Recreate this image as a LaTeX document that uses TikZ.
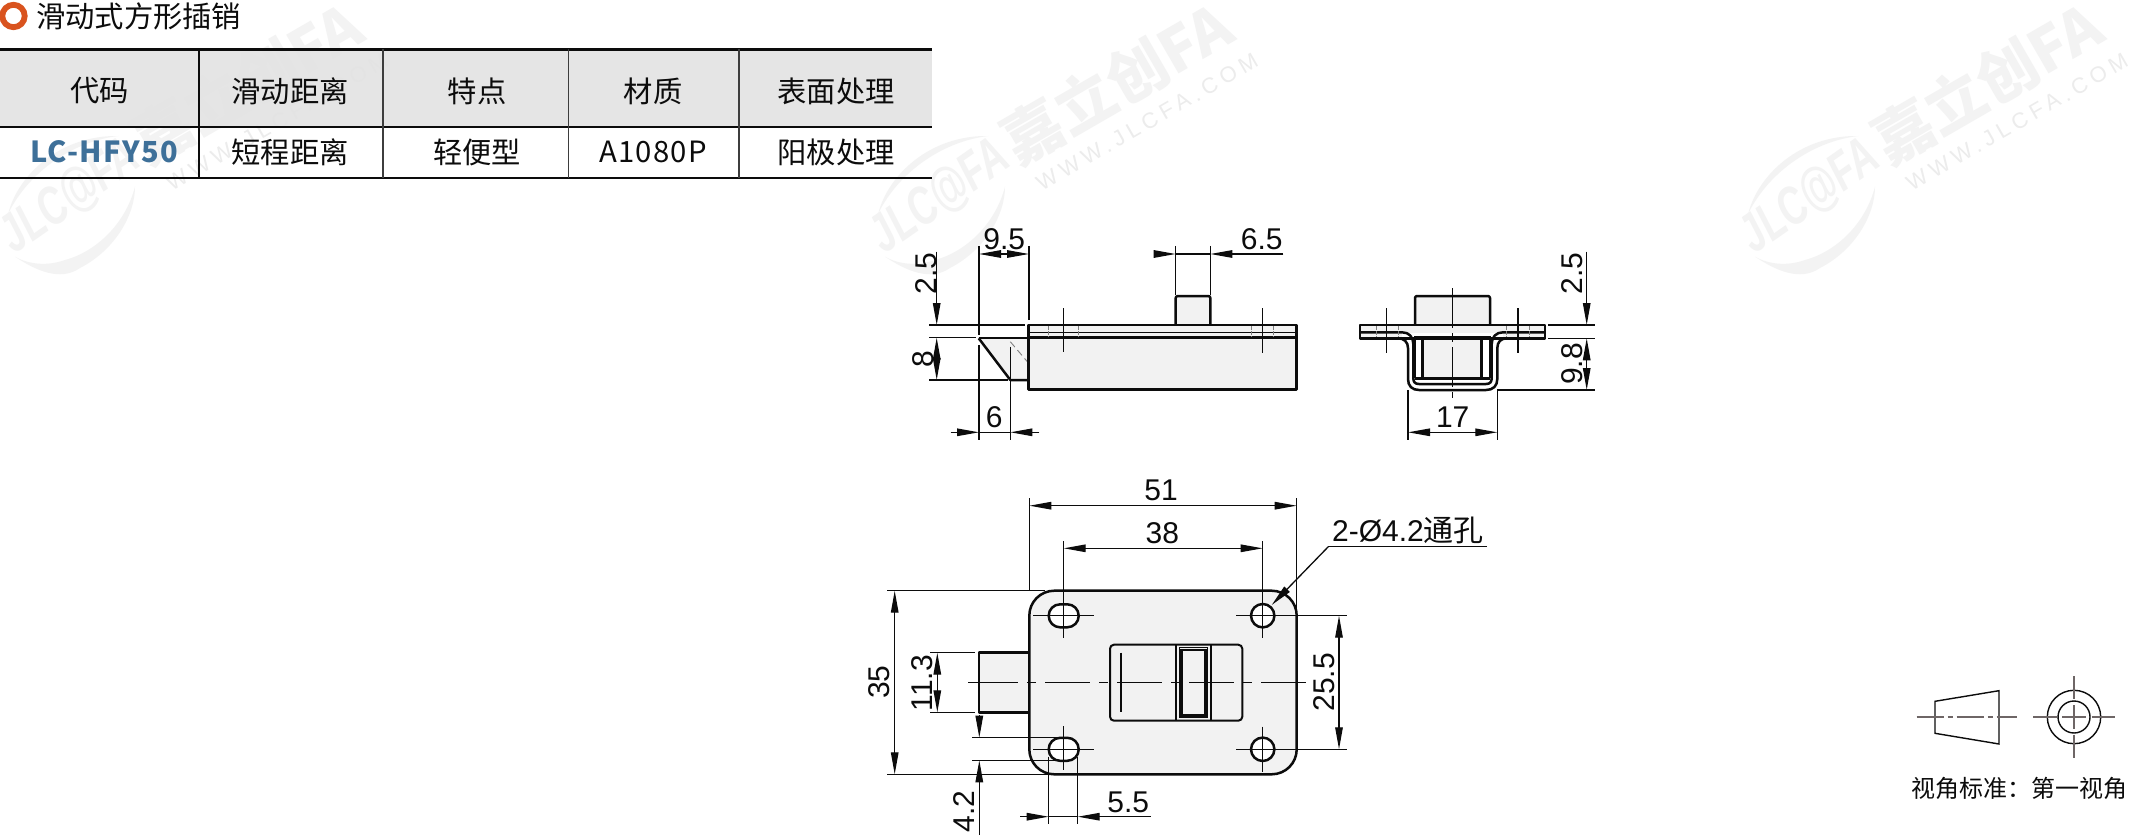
\documentclass[tikz,border=0pt]{standalone}
\usepackage{fontspec}
\usetikzlibrary{arrows.meta}
\setmainfont{Liberation Sans}
\newfontfamily\cjk{Noto Sans CJK SC}
\newfontfamily\wmspaced[LetterSpace=23]{Liberation Sans}
\newfontfamily\codefont[LetterSpace=5]{Noto Sans CJK SC}
\newfontfamily\latinwide[LetterSpace=4]{Noto Sans CJK SC}
\definecolor{body}{HTML}{F2F2F2}
\definecolor{ink}{HTML}{0C0C0C}
\definecolor{head}{HTML}{E3E3E3}
\definecolor{wm}{HTML}{F3F3F3}
\definecolor{wmthin}{HTML}{ECECEC}
\definecolor{cline}{HTML}{6E6666}
\definecolor{ringc}{HTML}{D9531E}
\tikzset{
  x=1pt,y=-1pt,
  thin line/.style={line width=1.3pt,draw=ink},
  thick line/.style={line width=2.5pt,draw=ink,line join=round},
  obj/.style={thick line,fill=body},
  hid/.style={line width=.9pt,draw=gray},
  centre/.style={line width=1.3pt,draw=ink,dash pattern=on 45pt off 9pt on 9pt off 9pt},
  arr/.style={thin line,-{Triangle[length=22pt,width=7.5pt]}},
  dimt/.style={inner sep=0pt,font=\fontsize{30}{30}\selectfont,text=ink},
  dimr/.style={dimt,rotate=90},
  th/.style={inner sep=0pt,font=\fontsize{29.3}{29.3}\selectfont\cjk,text=ink},
  rule/.style={line width=2.8pt,draw=ink},
  sep/.style={line width=1.2pt,draw=ink!80},
}
\newcommand{\wmark}[2]{%
  \begin{scope}[shift={(#1,0)}]
    \fill[wm] (878.3,213.3) .. controls (888,175) and (930,135) .. (988.3,136)
      .. controls (945,141) and (900,170) .. (878.3,213.3) -- cycle;
    \fill[wm] (885,256.7) .. controls (905,270) and (930,282) .. (950,268)
      .. controls (985,250) and (1005,215) .. (1005,186.7)
      .. controls (995,225) and (965,252) .. (935,260)
      .. controls (918,266) and (900,265) .. (885,256.7) -- cycle;
    \node[inner sep=0pt,rotate=35,text=wm] (#2logo) at (940,197)
      {\scalebox{.7}[1]{\fontsize{54}{54}\selectfont\bfseries\itshape JLC@FA}};
    \node[inner sep=0pt,rotate=30,text=wm] (#2name) at (1117,83)
      {\fontsize{60}{60}\selectfont\cjk\bfseries 嘉立创FA};
    \node[inner sep=0pt,rotate=30,text=wmthin] (#2web) at (1147,122)
      {\fontsize{22}{22}\selectfont\wmspaced WWW.JLCFA.COM};
  \end{scope}}
\begin{document}
\begin{tikzpicture}
\useasboundingbox (0,0) rectangle (2131,837);
\fill[white] (0,0) rectangle (2131,837);

% ---- watermarks
\wmark{-870}{a}
\wmark{0}{b}
\wmark{870}{c}

% ---- title
\draw[line width=5.8pt,draw=ringc] (13.5,16) circle (11.2);
\node[th,anchor=west] (title) at (36,16) {滑动式方形插销};

% ---- table
\fill[head,fill opacity=.92] (0,49) rectangle (932,127);
\draw[rule] (0,49.5) -- (932,49.5);
\draw[rule] (0,127) -- (932,127);
\draw[rule] (0,178) -- (932,178);
\draw[line width=2.4pt,draw=ink] (199,49) -- (199,178);
\foreach \sx in {383,568.5,739} \draw[sep] (\sx,49) -- (\sx,178);
\node[th] (h1) at (99.5,91) {代码};
\node[th] (h2) at (290,91) {滑动距离};
\node[th] (h3) at (477,91) {特点};
\node[th] (h4) at (653,91) {材质};
\node[th] (h5) at (836,91) {表面处理};
\node[inner sep=0pt,font=\fontsize{29}{29}\selectfont\codefont\bfseries,text={rgb,255:red,62;green,112;blue,153}] (c1) at (104,152) {LC-HFY50};
\node[th] (c2) at (290,152) {短程距离};
\node[th] (c3) at (477,152) {轻便型};
\node[th,font=\fontsize{29.3}{29.3}\selectfont\latinwide] (c4) at (653,152) {A1080P};
\node[th] (c5) at (836,152) {阳极处理};

% ---- side view
\fill[body] (978.7,338) -- (1010.3,380) -- (1029,380) -- (1029,338) -- cycle;
\draw[thin line] (978.7,338) -- (1029,338);
\draw[thick line] (978.7,338.3) -- (1010.3,380) -- (1029,380);
\draw[hid,dash pattern=on 7pt off 4pt] (1010.3,341.7) -- (1028.7,363.3);
\draw[obj,rounded corners=2pt] (1175.7,325) -- (1175.7,296) -- (1210.3,296) -- (1210.3,325);
\draw[obj] (1028.7,325) rectangle (1296.7,389.3);
\draw[thick line] (1028.7,337.7) -- (1296.7,337.7);
\draw[line width=1.5pt,draw=ink] (1028.7,332.3) -- (1296.7,332.3);
\foreach \hx in {1048.7,1078,1251.7,1273.3}
  \draw[hid,dash pattern=on 3.5pt off 1.5pt] (\hx,326) -- (\hx,337);
\draw[thin line] (1063.3,308.3) -- (1063.3,351.7);
\draw[thin line] (1262.7,308.3) -- (1262.7,353.3);
% extension lines
\draw[thin line] (979,246) -- (979,335);
\draw[thin line] (979,345) -- (979,440);
\draw[thin line] (1029,246) -- (1029,320);
\draw[thin line] (1010.3,346.7) -- (1010.3,440);
\draw[thin line] (1175.7,246) -- (1175.7,295);
\draw[thin line] (1210.3,246) -- (1210.3,295);
\draw[thin line] (929.3,325) -- (1025,325);
\draw[thin line] (929.3,337.7) -- (976,337.7);
\draw[thin line] (929.3,380) -- (1008,380);
% dimensions
\draw[arr] (936.7,251.7) -- (936.7,325);
\draw[arr] (936.7,359) -- (936.7,337.7);
\draw[arr] (936.7,359) -- (936.7,380);
\draw[arr] (1004,254) -- (979,254);
\draw[arr] (1004,254) -- (1029,254);
\draw[arr] (1154,254) -- (1175.7,254);
\draw[thin line] (1175.7,254) -- (1210.3,254);
\draw[arr] (1283.3,254) -- (1210.3,254);
\draw[arr] (950.7,432.3) -- (979,432.3);
\draw[thin line] (979,432.3) -- (1010.3,432.3);
\draw[arr] (1039.3,432.3) -- (1010.3,432.3);
\node[dimr] (d25a) at (926,273.3) {2.5};
\node[dimr] (d8) at (923,359) {8};
\node[dimt] (d95) at (1004.3,239) {9.5};
\node[dimt] (d65) at (1261.7,239) {6.5};
\node[dimt] (d6) at (994.3,417.3) {6};

% ---- end view
\draw[obj,rounded corners=2pt] (1415,325) -- (1415,296) -- (1490,296) -- (1490,325);
\fill[white] (1408,338) rectangle (1497.3,390);
\fill[body] (1422.7,338) rectangle (1481.7,378.3);
\draw[thick line,fill=body] (1360,325) rectangle (1545,338.3);
\draw[thin line] (1415,337) -- (1415,378);
\draw[thin line] (1490,337) -- (1490,378);
\draw[thick line] (1422.7,337) -- (1422.7,378.3);
\draw[thick line] (1481.7,337) -- (1481.7,378.3);
\draw[thick line] (1415,378.3) -- (1490,378.3);
\fill[white] (1402,333.3) rectangle (1503,337.3);
\draw[thin line] (1414,336.7) -- (1491,336.7);
\draw[thick line] (1360,338.3) -- (1398,338.3) .. controls (1404,338.3) and (1408,342) .. (1408,348)
  -- (1408,379) .. controls (1408,386) and (1412,390) .. (1419,390) -- (1486,390)
  .. controls (1493,390) and (1497.3,386) .. (1497.3,379) -- (1497.3,348)
  .. controls (1497.3,342) and (1501,338.3) .. (1507,338.3) -- (1545,338.3);
\draw[thick line] (1360,332.3) -- (1402,332.3) .. controls (1409,332.3) and (1413.3,337) .. (1413.3,344)
  -- (1413.3,378) .. controls (1413.3,382) and (1415,384) .. (1419,384) -- (1486,384)
  .. controls (1490,384) and (1491.7,382) .. (1491.7,378) -- (1491.7,344)
  .. controls (1491.7,337) and (1496,332.3) .. (1503,332.3) -- (1545,332.3);
\draw[thin line] (1360,325) -- (1545,325);
\foreach \hx in {1376,1398.3,1506.7,1529.3}
  \draw[hid,dash pattern=on 3.5pt off 1.5pt] (\hx,326) -- (\hx,337);
\draw[thin line,dash pattern=on 40pt off 5pt on 9pt off 5pt] (1452.7,288.3) -- (1452.7,398.3);
\draw[thin line] (1386.7,308.3) -- (1386.7,353.3);
\draw[thin line] (1518,308.3) -- (1518,353.3);
\draw[thin line] (1548.3,325) -- (1595,325);
\draw[thin line] (1548.3,338.3) -- (1595,338.3);
\draw[thin line] (1497,390) -- (1595,390);
\draw[thin line] (1408,390) -- (1408,440);
\draw[thin line] (1497.3,390) -- (1497.3,440);
\draw[arr] (1586.7,251.7) -- (1586.7,325);
\draw[arr] (1586.7,364) -- (1586.7,338.3);
\draw[arr] (1586.7,364) -- (1586.7,390);
\draw[arr] (1452.7,432.3) -- (1408,432.3);
\draw[arr] (1452.7,432.3) -- (1497.3,432.3);
\node[dimr] (d25b) at (1572.3,273.3) {2.5};
\node[dimr] (d98) at (1572.3,364) {9.8};
\node[dimt] (d17) at (1452.7,417.3) {17};

% ---- front view
\draw[obj] (1029.3,652.7) -- (979,652.7) -- (979,712.3) -- (1029.3,712.3);
\draw[obj,rounded corners=25pt] (1029.3,590.7) rectangle (1296.7,774.3);
\draw[line width=2pt,draw=ink,rounded corners=4pt] (1110,644.7) rectangle (1242.3,720.7);
\draw[line width=2.4pt,draw=ink] (1120.7,652.7) -- (1120.7,712.3);
\draw[line width=2pt,draw=ink] (1176,644.7) -- (1176,720.7);
\draw[line width=2pt,draw=ink] (1210.7,644.7) -- (1210.7,720.7);
\draw[line width=1.4pt,draw=ink] (1179.3,647.7) rectangle (1207.3,717.7);
\draw[line width=2.4pt,draw=ink,fill=body] (1181.3,650) rectangle (1205.3,715.5);
% holes
\draw[thick line,fill=white,rounded corners=11.4pt] (1048.7,604.3) rectangle (1078.7,627.3);
\draw[thick line,fill=white,rounded corners=11.4pt] (1048.7,737.8) rectangle (1078.7,760.8);
\draw[thick line,fill=white] (1262.7,615.7) circle (11.7);
\draw[thick line,fill=white] (1262.7,749.3) circle (11.7);
% centre marks
\draw[thin line] (1033.3,615.7) -- (1094,615.7);
\draw[thin line] (1033.3,749.3) -- (1094,749.3);
\draw[thin line] (1063.7,541) -- (1063.7,638.3);
\draw[thin line] (1063.7,726) -- (1063.7,770);
\draw[thin line] (1236,615.7) -- (1346.7,615.7);
\draw[thin line] (1236,749.3) -- (1346.7,749.3);
\draw[thin line] (1262.7,541) -- (1262.7,637.7);
\draw[thin line] (1262.7,726.7) -- (1262.7,771.7);
% centre line
\draw[thin line] (968.3,682.3) -- (975,682.3);
\draw[centre] (973,682.3) -- (1305.7,682.3);
% extension lines
\draw[thin line] (1029.3,498.3) -- (1029.3,590);
\draw[thin line] (1296.7,498.3) -- (1296.7,613);
\draw[thin line] (887.3,590.7) -- (1045,590.7);
\draw[thin line] (887.3,774.3) -- (1050,774.3);
\draw[thin line] (930,652.7) -- (975,652.7);
\draw[thin line] (930,712.3) -- (975,712.3);
\draw[thin line] (972.3,737.7) -- (1060,737.7);
\draw[thin line] (972.3,760.3) -- (1056.7,760.3);
\draw[thin line] (1048.7,756.7) -- (1048.7,824);
\draw[thin line] (1077.7,756.7) -- (1077.7,824);
% dimensions
\draw[arr] (1161,505.7) -- (1029.3,505.7);
\draw[arr] (1161,505.7) -- (1296.7,505.7);
\draw[arr] (1162,548.3) -- (1063.7,548.3);
\draw[arr] (1162,548.3) -- (1262.7,548.3);
\draw[arr] (894.7,682) -- (894.7,590.7);
\draw[arr] (894.7,682) -- (894.7,774.3);
\draw[arr] (937.3,682) -- (937.3,652.7);
\draw[arr] (937.3,682) -- (937.3,712.3);
\draw[arr] (979.3,715) -- (979.3,737.7);
\draw[arr] (979.3,835) -- (979.3,760.3);
\draw[arr] (1020,816.7) -- (1048.7,816.7);
\draw[thin line] (1048.7,816.7) -- (1077.7,816.7);
\draw[arr] (1150.7,816.7) -- (1077.7,816.7);
\draw[arr] (1339,682) -- (1339,615.7);
\draw[arr] (1339,682) -- (1339,749.3);
\coordinate (leadk) at (1328.3,546.7);
\coordinate (leadt) at (1271.7,605);
\draw[thin line] (1487,546.7) -- (leadk);
\draw[arr] (leadk) -- (leadt);
\node[dimt] (d51) at (1161,490.7) {51};
\node[dimt] (d38) at (1162.3,533.3) {38};
\node[dimr] (d35) at (879.3,682.3) {35};
\node[dimr] (d113) at (922.3,683.3) {11.3};
\node[dimr] (d42) at (964,811.7) {4.2};
\node[dimt] (d55) at (1128.3,802.3) {5.5};
\node[dimr] (d255) at (1324,682.3) {25.5};
\node[dimt,anchor=west] (note) at (1332,530.7) {2-Ø4.2{\fontsize{30}{30}\selectfont\cjk 通孔}};

% ---- projection symbol
\draw[line width=1.4pt,draw=ink] (1935,701.3) -- (1999,690.7) -- (1999,744) -- (1935,733.3) -- cycle;
\draw[line width=1.4pt,draw=cline,dash pattern=on 27pt off 4pt on 5pt off 4pt] (1916.7,717) -- (2017.3,717);
\draw[line width=1.4pt,draw=ink] (2074,717) circle (26.7);
\draw[line width=1.4pt,draw=ink] (2074,717) circle (16);
\draw[line width=1.4pt,draw=cline] (2033.3,717) -- (2056.7,717);
\draw[line width=1.4pt,draw=cline] (2062,717) -- (2086,717);
\draw[line width=1.4pt,draw=cline] (2091.6,717) -- (2115,717);
\draw[line width=1.4pt,draw=cline] (2074,676) -- (2074,699.3);
\draw[line width=1.4pt,draw=cline] (2074,705) -- (2074,729);
\draw[line width=1.4pt,draw=cline] (2074,734.7) -- (2074,758.3);
\node[inner sep=0pt,font=\fontsize{24}{24}\selectfont\cjk,text=ink] (std) at (2019,788.3) {视角标准：第一视角};
\end{tikzpicture}
\end{document}
